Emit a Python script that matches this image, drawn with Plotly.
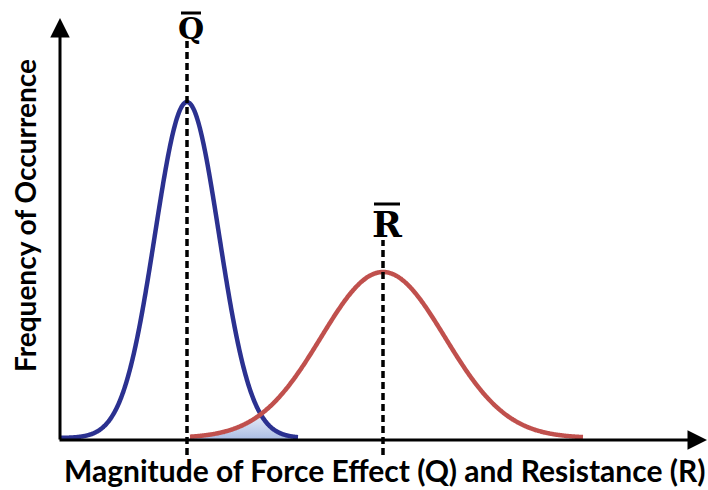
import numpy as np
import plotly.graph_objects as go

# Normal-distribution parameters for load effect Q and resistance R
labels = ["Q", "R"]
means = [127.0, 323.0]
sigmas = [32.0, 62.0]
peaks = [336.0, 166.0]
extents = [(0.0, 238.0), (130.0, 523.0)]
colors = ["#2B3190", "#C0504D"]
baseline = 2.0

x_title = "Magnitude of Force Effect (Q) and Resistance (R)"
y_title = "Frequency of Occurrence"


def bell(x, mu, sd, peak):
    return baseline + peak * np.exp(-0.5 * ((x - mu) / sd) ** 2)


fig = go.Figure()

# overlap region (failure zone) under both curves
xo = np.linspace(extents[1][0], extents[0][1], 200)
yo = np.minimum(bell(xo, means[0], sigmas[0], peaks[0]),
                bell(xo, means[1], sigmas[1], peaks[1]))
fig.add_trace(go.Scatter(
    x=xo, y=yo, mode="lines", line=dict(width=0),
    fill="tozeroy",
    fillgradient=dict(type="vertical", start=0, stop=float(yo.max()),
                      colorscale=[[0, "#A9BCE4"], [1, "#E9EEF8"]]),
    hoverinfo="skip", showlegend=False))

# the two bell curves
for lab, mu, sd, pk, (x0, x1), c in zip(labels, means, sigmas, peaks, extents, colors):
    xs = np.linspace(x0, x1, 400)
    fig.add_trace(go.Scatter(x=xs, y=bell(xs, mu, sd, pk), mode="lines",
                             line=dict(color=c, width=4.5, shape="spline"),
                             name=lab, showlegend=False))

shapes = []
annotations = []

# axes drawn as arrows
annotations.append(dict(x=0, y=422, ax=0, ay=-1, xref="x", yref="y", axref="x", ayref="y",
                        showarrow=True, arrowhead=2, arrowsize=1.3, arrowwidth=3,
                        arrowcolor="black", text=""))
annotations.append(dict(x=647, y=0, ax=-2, ay=0, xref="x", yref="y", axref="x", ayref="y",
                        showarrow=True, arrowhead=2, arrowsize=1.3, arrowwidth=3,
                        arrowcolor="black", text=""))

# mean lines, labels with overbars
tops = [400, 200]
label_sizes = [30, 36]
label_y = [412, 216]
bar_y = [427, 236]
bar_half = [10, 13]
for lab, mu, pk, top, fs, ly, by, bh in zip(labels, means, peaks, tops, label_sizes,
                                            label_y, bar_y, bar_half):
    shapes.append(dict(type="line", xref="x", yref="y", x0=mu, x1=mu, y0=-15, y1=top,
                       line=dict(color="black", width=3.5, dash="7px,4px")))
    annotations.append(dict(x=mu + 4, y=ly, xref="x", yref="y", text="<b>%s</b>" % lab,
                            showarrow=False,
                            font=dict(family="DejaVu Serif", size=fs, color="black")))
    shapes.append(dict(type="line", xref="x", yref="y", x0=mu + 4 - bh, x1=mu + 4 + bh,
                       y0=by, y1=by, line=dict(color="black", width=3)))

# axis titles
annotations.append(dict(x=325, y=-30, xref="x", yref="y", text="<b>%s</b>" % x_title,
                        showarrow=False,
                        font=dict(family="Lato", size=30, color="black")))
annotations.append(dict(x=-35, y=224, xref="x", yref="y", text="<b>%s</b>" % y_title,
                        showarrow=False, textangle=-90,
                        font=dict(family="Lato", size=28, color="black")))

fig.update_layout(
    width=708, height=490,
    margin=dict(l=0, r=0, t=0, b=0),
    paper_bgcolor="white", plot_bgcolor="white",
    xaxis=dict(range=[-60, 648], visible=False, fixedrange=True),
    yaxis=dict(range=[-50, 440], visible=False, fixedrange=True),
    shapes=shapes, annotations=annotations,
)

fig.write_html("out.html")
